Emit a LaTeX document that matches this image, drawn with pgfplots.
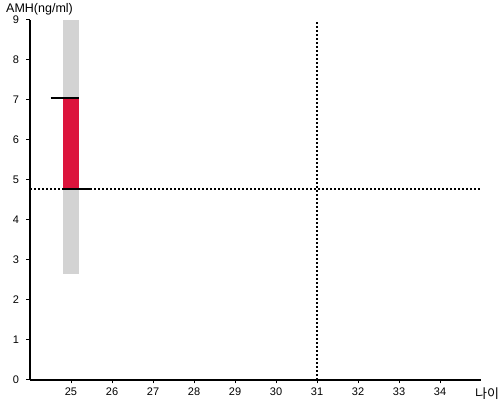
\documentclass[border=0pt]{standalone}
\usepackage{pgfplots}
\pgfplotsset{compat=1.18}
\usepackage{fontspec}
\setmainfont{Liberation Sans}
\newfontfamily\kr{Noto Sans CJK KR}
\definecolor{barred}{RGB}{220,20,60}
\definecolor{bargray}{RGB}{211,211,211}
\begin{document}
\begin{tikzpicture}
\begin{axis}[name=ax,
  scale only axis, width=451pt, height=360pt,
  xmin=24, xmax=35, ymin=0, ymax=9,
  axis x line=bottom, axis y line=left,
  axis line style={-, line width=1.2pt},
  xtick={25,...,34}, ytick={0,...,9},
  tick align=outside, major tick length=3.5pt,
  tick style={black, line width=1pt},
  /pgf/number format/assume math mode=true,
  ticklabel style={font=\fontsize{11}{13}\selectfont},
  yticklabel style={xshift=-4pt},
  xticklabel style={yshift=-1pt},
  clip=false,
]
\addplot[fill=bargray, draw=none] coordinates {(24.8,2.65) (25.2,2.65) (25.2,9) (24.8,9)} -- cycle;
\addplot[fill=barred, draw=none] coordinates {(24.8,4.78) (25.2,4.78) (25.2,7.05) (24.8,7.05)} -- cycle;
\addplot[black, line width=2pt] coordinates {(24.5,7.05) (25.2,7.05)};
\addplot[black, line width=2pt] coordinates {(24.8,4.78) (25.5,4.78)};
\addplot[black, line width=2pt, dash pattern=on 2pt off 2pt] coordinates {(24,4.78) (35,4.78)};
\addplot[black, line width=2pt, dash pattern=on 2pt off 2pt] coordinates {(31,0) (31,9)};
\node[anchor=base west, font=\fontsize{12.5}{14}\selectfont, inner sep=0pt] at ([xshift=-24pt, yshift=7pt]rel axis cs:0,1) {AMH(ng/ml)};
\node[anchor=base west, font=\fontsize{13}{15}\kr, inner sep=0pt] at ([xshift=-6pt, yshift=-19pt]rel axis cs:1,0) {나이};
\end{axis}
\pgfresetboundingbox
\path ([shift={(-30pt,-20pt)}]ax.south west) rectangle ([shift={(19pt,20pt)}]ax.north east);
\end{tikzpicture}
\end{document}
